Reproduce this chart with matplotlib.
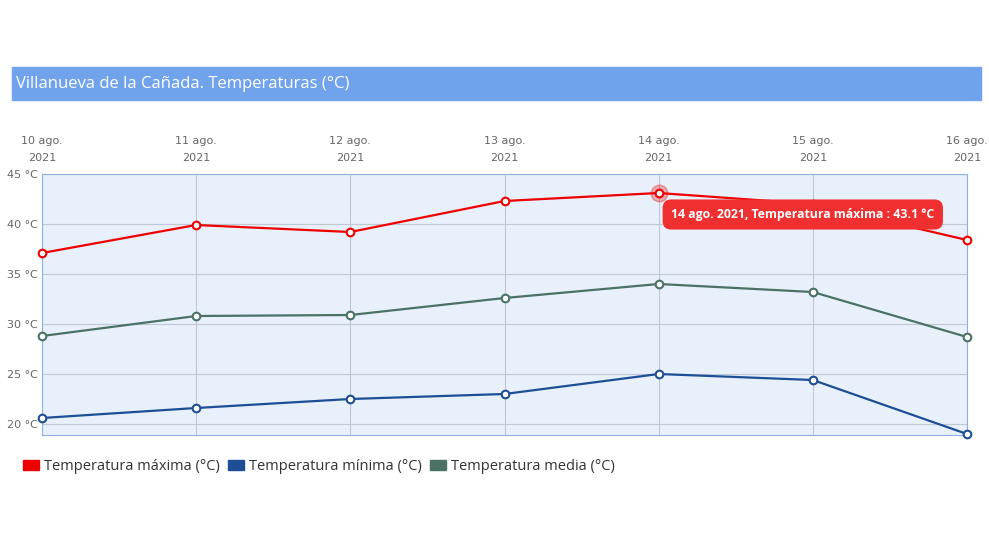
import matplotlib
matplotlib.use('Agg')
import matplotlib.pyplot as plt
from matplotlib.patches import Rectangle

dates = ['10 ago.\n2021', '11 ago.\n2021', '12 ago.\n2021', '13 ago.\n2021',
         '14 ago.\n2021', '15 ago.\n2021', '16 ago.\n2021']
t_max = [37.1, 39.9, 39.2, 42.3, 43.1, 42.0, 38.4]
t_media = [28.8, 30.8, 30.9, 32.6, 34.0, 33.2, 28.7]
t_min = [20.6, 21.6, 22.5, 23.0, 25.0, 24.4, 19.0]
y_ticks = [20, 25, 30, 35, 40, 45]

W, H = 989, 558
fig = plt.figure(figsize=(W / 100, H / 100), dpi=100)
fig.patch.set_facecolor('white')

# title bar
fig.patches.append(Rectangle((12 / W, 1 - 100 / H), 969 / W, 33 / H,
                             transform=fig.transFigure, color='#70a3ec', zorder=0))
fig.text(16 / W, 1 - 84 / H, 'Villanueva de la Cañada. Temperaturas (°C)',
         color='white', fontsize=12, va='center', family='Open Sans')

ax = fig.add_axes([42 / W, 1 - 435 / H, 925 / W, 261 / H])
ax.set_facecolor('#e8f0fb')
x = list(range(len(dates)))
series = [(t_max, '#ee0000', 'Temperatura máxima (°C)'),
          (t_min, '#1d4e96', 'Temperatura mínima (°C)'),
          (t_media, '#4a7265', 'Temperatura media (°C)')]
for vals, col, lab in series:
    ax.plot(x, vals, color=col, lw=1.6, marker='o', ms=5.5, mfc='white',
            mec=col, mew=1.5, label=lab, zorder=3, clip_on=False)

ax.set_xlim(0, 6)
ax.set_ylim(18.9, 45)
ax.set_yticks(y_ticks)
ax.set_yticklabels([f'{v} °C' for v in y_ticks])
ax.set_xticks(x)
ax.set_xticklabels(dates, linespacing=1.9)
ax.xaxis.tick_top()
ax.tick_params(axis='both', length=0, labelsize=8, labelcolor='#666666')
ax.tick_params(axis='x', pad=8)
ax.tick_params(axis='y', pad=3)
ax.grid(True, color='#c0c8d4', lw=0.8)
for s in ax.spines.values():
    s.set_color('#8fb0e0')

# highlighted point + tooltip
ax.plot(4, t_max[4], 'o', ms=12, color='#ee0000', alpha=0.3, zorder=2)
ax.annotate(f'14 ago. 2021, Temperatura máxima : {t_max[4]} °C', (4, t_max[4]),
            xytext=(9, -18), textcoords='offset points', color='white',
            fontsize=8.8, fontweight='bold', family='Open Sans',
            bbox=dict(boxstyle='round,pad=0.7', fc='#f03030', ec='none'), zorder=5)

leg = fig.legend(handles=[Rectangle((0, 0), 1, 1, color=c) for _, c, _ in series],
                 labels=[l for _, _, l in series],
                 loc='upper left', bbox_to_anchor=(10 / W, 1 - 446 / H), ncol=3,
                 frameon=False, handlelength=1.1, handleheight=0.6, columnspacing=0.6,
                 handletextpad=0.3, prop={'family': 'Open Sans', 'size': 10.5},
                 labelcolor='#333333')

fig.savefig('out.png', dpi=100)
